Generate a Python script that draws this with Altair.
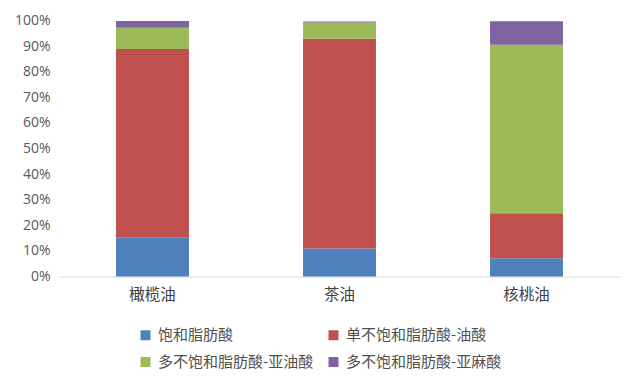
import altair as alt
import pandas as pd

oils = ["橄榄油", "茶油", "核桃油"]
series = ["饱和脂肪酸", "单不饱和脂肪酸-油酸", "多不饱和脂肪酸-亚油酸", "多不饱和脂肪酸-亚麻酸"]
colors = ["#4F81BD", "#C0504D", "#9BBB59", "#8064A2"]
saturated = [15.3, 10.9, 7.1]
oleic = [73.6, 82.0, 17.6]
linoleic = [8.3, 6.3, 65.8]
linolenic = [2.6, 0.4, 9.2]
y_ticks = [0, 10, 20, 30, 40, 50, 60, 70, 80, 90, 100]

rows = []
for si, vals in enumerate([saturated, oleic, linoleic, linolenic]):
    for oil, v in zip(oils, vals):
        rows.append({"oil": oil, "series": series[si], "idx": si, "value": v})
df = pd.DataFrame(rows)

font = "Noto Sans CJK SC"

chart = alt.Chart(df).mark_bar(stroke=None).encode(
    x=alt.X("oil:N", sort=oils, title=None,
            scale=alt.Scale(paddingInner=0.61, paddingOuter=0.305),
            axis=alt.Axis(labelAngle=0, ticks=False, domainColor="#D9D9D9",
                          labelFontSize=15.5, labelColor="#404040", labelFont=font,
                          labelPadding=11, grid=False)),
    y=alt.Y("value:Q", stack="zero", title=None,
            scale=alt.Scale(domain=[0, 100], nice=False),
            axis=alt.Axis(values=y_ticks, labelExpr="datum.value + '%'",
                          domain=False, ticks=False, grid=False,
                          labelFontSize=14, labelColor="#595959", labelFont="Open Sans",
                          labelPadding=9)),
    color=alt.Color("series:N", sort=series,
                    scale=alt.Scale(domain=series, range=colors),
                    legend=alt.Legend(title=None, orient="none", legendX=79, legendY=307,
                                      direction="horizontal",
                                      columns=2, symbolType="square", symbolSize=100,
                                      symbolStrokeWidth=0, labelFontSize=15,
                                      labelFont=font, labelColor="#505050",
                                      columnPadding=12, rowPadding=11, labelOffset=5)),
    order=alt.Order("idx:Q", sort="ascending"),
).properties(
    width=561, height=256,
    padding={"left": 51, "top": 12.5, "right": 12, "bottom": 100.5},
    autosize=alt.AutoSizeParams(type="none"),
).configure(background="white", view=alt.ViewConfig(stroke=None))

chart.save("out.html", embed_options={"renderer": "svg", "actions": False})
